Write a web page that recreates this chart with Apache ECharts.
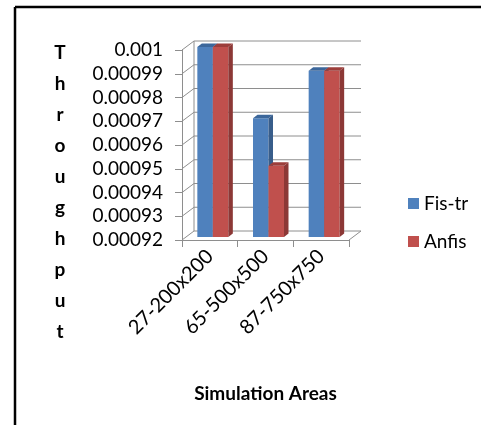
<!DOCTYPE html>
<html>
<head>
<meta charset="utf-8">
<script src="https://cdn.jsdelivr.net/npm/echarts@6/dist/echarts.min.js"></script>
<style>
html,body{margin:0;padding:0;background:#fff;}
#chart{width:481px;height:425px;}
</style>
</head>
<body>
<div id="chart"></div>
<script>
// ---- data ----
const categories = ['27-200x200', '65-500x500', '87-750x750'];
const seriesNames = ['Fis-tr', 'Anfis'];
const fisTr = [0.001, 0.00097, 0.00099];
const anfis = [0.001, 0.00095, 0.00099];
const yTickValues = [0.00092, 0.00093, 0.00094, 0.00095, 0.00096, 0.00097, 0.00098, 0.00099, 0.001];
const yTickLabels = ['0.00092', '0.00093', '0.00094', '0.00095', '0.00096', '0.00097', '0.00098', '0.00099', '0.001'];
const yTitle = 'Throughput';
const xTitle = 'Simulation Areas';

// ---- build ----
const UNIT = 1e-5;
const toUnits = v => Math.round(v / UNIT * 1000) / 1000;
const yMin = toUnits(yTickValues[0]);
const yMax = toUnits(yTickValues[yTickValues.length - 1]);

const DEPTH = { dx: 12, dy: 9 };
const BAR = { ox: 3, oy: 3, w: 15.5, dx: 4.5, dy: 3.5 };
const COLORS = [
  { front: '#4F81BD', top: '#3C679B', side: '#385D8A' },
  { front: '#C0504D', top: '#9C3E3B', side: '#8C3836' }
];
const LINE = '#8E8E8E';
const FONT = 'Lato';

function barRenderer(side) {
  return function (params, api) {
    const cat = api.value(0), v = api.value(1);
    const topPt = api.coord([cat, v]);
    const basePt = api.coord([cat, yMin]);
    const x0 = topPt[0] + BAR.ox + (side === 0 ? -BAR.w : 0);
    const yTop = topPt[1] - BAR.oy;
    const yBot = basePt[1] - BAR.oy;
    const w = BAR.w, dx = BAR.dx, dy = BAR.dy;
    const c = COLORS[side];
    return {
      type: 'group',
      children: [
        { type: 'rect', shape: { x: x0, y: yTop, width: w, height: yBot - yTop }, style: { fill: c.front } },
        { type: 'polygon', shape: { points: [[x0, yTop], [x0 + w, yTop], [x0 + w + dx, yTop - dy], [x0 + dx, yTop - dy]] }, style: { fill: c.top } },
        { type: 'polygon', shape: { points: [[x0 + w, yTop], [x0 + w + dx, yTop - dy], [x0 + w + dx, yBot - dy], [x0 + w, yBot]] }, style: { fill: c.side } }
      ]
    };
  };
}

function wallRenderer(params, api) {
  const cs = params.coordSys;
  const y = api.coord([0, api.value(1)])[1];
  const dx = DEPTH.dx, dy = DEPTH.dy;
  const st = { stroke: LINE, lineWidth: 1, fill: null };
  const children = [
    { type: 'polyline', shape: { points: [[cs.x, y], [cs.x + dx, y - dy], [cs.x + cs.width + dx, y - dy]] }, style: st }
  ];
  if (params.dataIndex === 0) {
    children.push({ type: 'line', shape: { x1: cs.x + dx, y1: cs.y - dy, x2: cs.x + dx, y2: cs.y + cs.height - dy }, style: st });
    children.push({ type: 'line', shape: { x1: cs.x + cs.width, y1: cs.y + cs.height, x2: cs.x + cs.width + dx, y2: cs.y + cs.height - dy }, style: st });
  }
  return { type: 'group', children: children };
}

const chart = echarts.init(document.getElementById('chart'), null, { renderer: 'canvas' });
const option = {
  animation: false,
  backgroundColor: '#ffffff',
  grid: { left: 182, top: 50, width: 167, height: 190 },
  legend: {
    data: seriesNames,
    orient: 'vertical',
    left: 403,
    top: 189,
    icon: 'rect',
    itemWidth: 11,
    itemHeight: 11,
    itemGap: 19,
    textStyle: { fontFamily: FONT, fontSize: 19, color: '#000' }
  },
  xAxis: {
    type: 'category',
    data: categories,
    axisLine: { show: true, lineStyle: { color: LINE, width: 1 } },
    axisTick: { show: true, length: 7, lineStyle: { color: LINE } },
    axisLabel: { rotate: 45, margin: 13, fontFamily: FONT, fontSize: 20, color: '#000' },
    name: xTitle,
    nameLocation: 'middle',
    nameGap: 144,
    nameTextStyle: { fontFamily: FONT, fontSize: 19, fontWeight: 'bold', color: '#000' }
  },
  yAxis: {
    type: 'value',
    min: yMin,
    max: yMax,
    interval: 1,
    axisLine: { show: true, lineStyle: { color: LINE, width: 1 } },
    axisTick: { show: true, length: 7, lineStyle: { color: LINE } },
    splitLine: { show: false },
    axisLabel: {
      margin: 19,
      fontFamily: FONT, fontSize: 19, color: '#000',
      formatter: v => yTickLabels[Math.round(v - yMin)]
    }
  },
  graphic: [
    { type: 'line', shape: { x1: 15, y1: 7, x2: 481, y2: 7 }, style: { stroke: '#000', lineWidth: 2.5 } },
    { type: 'line', shape: { x1: 15, y1: 7, x2: 15, y2: 425 }, style: { stroke: '#000', lineWidth: 2.5 } },
    {
      type: 'text', x: 60, y: 37,
      style: {
        text: yTitle.split('').join('\n'),
        fontFamily: FONT, fontSize: 19, fontWeight: 'bold', fill: '#000',
        align: 'center', verticalAlign: 'top', lineHeight: 31
      }
    }
  ],
  series: [
    {
      type: 'custom', name: '_wall', silent: true, z: 1,
      renderItem: wallRenderer,
      data: yTickValues.map(v => [0, toUnits(v)]),
      encode: { x: 0, y: 1 }
    },
    {
      type: 'custom', name: seriesNames[0], z: 3,
      itemStyle: { color: COLORS[0].front },
      renderItem: barRenderer(0),
      data: fisTr.map((v, i) => [i, toUnits(v)]),
      encode: { x: 0, y: 1 }
    },
    {
      type: 'custom', name: seriesNames[1], z: 4,
      itemStyle: { color: COLORS[1].front },
      renderItem: barRenderer(1),
      data: anfis.map((v, i) => [i, toUnits(v)]),
      encode: { x: 0, y: 1 }
    }
  ]
};
chart.setOption(option);
</script>
</body>
</html>
